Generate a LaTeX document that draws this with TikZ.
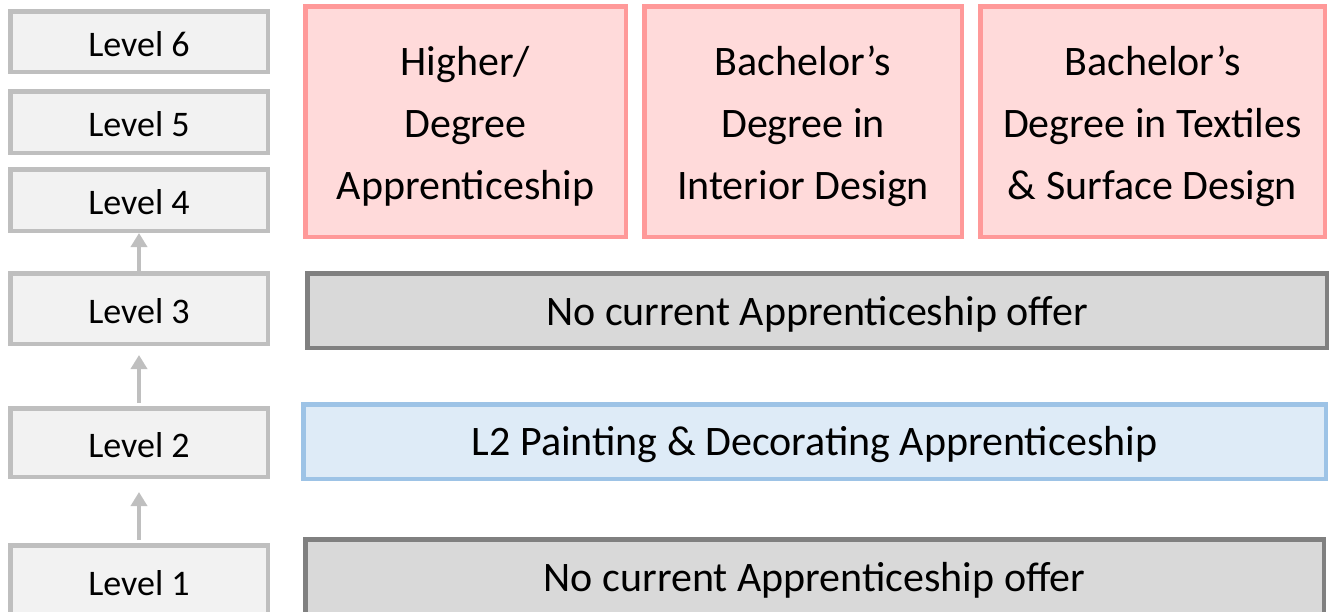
\documentclass[tikz,border=0pt]{standalone}
\usepackage{fontspec}
\setmainfont{Carlito}
\usetikzlibrary{arrows.meta}

\definecolor{levelfill}{HTML}{F2F2F2}
\definecolor{levelline}{HTML}{BFBFBF}
\definecolor{degreefill}{HTML}{FFDADA}
\definecolor{degreeline}{HTML}{FF9999}
\definecolor{noofferfill}{HTML}{D9D9D9}
\definecolor{noofferline}{HTML}{808080}
\definecolor{apprfill}{HTML}{DEEBF7}
\definecolor{apprline}{HTML}{9DC3E6}

\begin{document}
\begin{tikzpicture}
    [
        x=1pt, y=-1pt,
        level/.style = {
            rectangle, draw=levelline, fill=levelfill, line width=4.5pt,
            minimum width=257.5pt, inner sep=0pt,
            text height=29pt, text depth=0pt,
            font=\fontsize{36}{43}\selectfont
            },
        degree/.style = {
            rectangle, draw=degreeline, fill=degreefill, line width=4.5pt,
            minimum height=230.5pt, inner sep=0pt, align=center,
            text height=155pt, text depth=0pt,
            font=\fontsize{42}{62}\selectfont
            },
        nooffer/.style = {
            rectangle, draw=noofferline, fill=noofferfill, line width=4.5pt,
            minimum height=74.5pt, inner sep=0pt,
            text height=30pt, text depth=0pt,
            font=\fontsize{42}{50}\selectfont
            },
        appr/.style = {
            rectangle, draw=apprline, fill=apprfill, line width=4.5pt,
            minimum height=74.5pt, inner sep=0pt,
            text height=28pt, text depth=0pt,
            font=\fontsize{42}{50}\selectfont
            },
        up/.style = {
            draw=levelline, line width=4pt,
            -{Triangle[width=16pt, length=14pt]}
            },
    ]
    \clip (0,0) rectangle (1329,611);
    %levels
    \node[level, minimum height=60.5pt] (level6) at (139,41.5) {Level 6};
    \node[level, minimum height=61.5pt] (level5) at (139,122) {Level 5};
    \node[level, minimum height=61.5pt] (level4) at (139,200) {Level 4};
    \node[level, minimum height=70.5pt] (level3) at (139,308.5) {Level 3};
    \node[level, minimum height=68.5pt] (level2) at (139,442.5) {Level 2};
    \node[level, minimum height=70.5pt] (level1) at (139,580.5) {Level 1};
    %offers
    \node[degree, minimum width=320.5pt] (higher) at (465.5,121.5) {Higher/\\Degree\\Apprenticeship};
    \node[degree, minimum width=317.5pt] (interior) at (803,121.5) {Bachelor’s\\Degree in\\Interior Design};
    \node[degree, minimum width=344.5pt] (textiles) at (1152.5,121.5) {Bachelor’s\\Degree in Textiles\\\& Surface Design};
    \node[nooffer, minimum width=1019.5pt] (none3) at (817,310.5) {No current Apprenticeship offer};
    \node[appr, minimum width=1022.5pt] (painting) at (814.5,441.5) {L2 Painting \& Decorating Apprenticeship};
    \node[nooffer, minimum width=1018.5pt] (none1) at (814.5,576.5) {No current Apprenticeship offer};
    %connecting levels
    \draw[up] (level3.north) to (level4.south);
    \draw[up, shorten <=3pt, shorten >=9pt] (level2.north) to (level3.south);
    \draw[up, shorten <=3pt, shorten >=13pt] (level1.north) to (level2.south);

\end{tikzpicture}
\end{document}
